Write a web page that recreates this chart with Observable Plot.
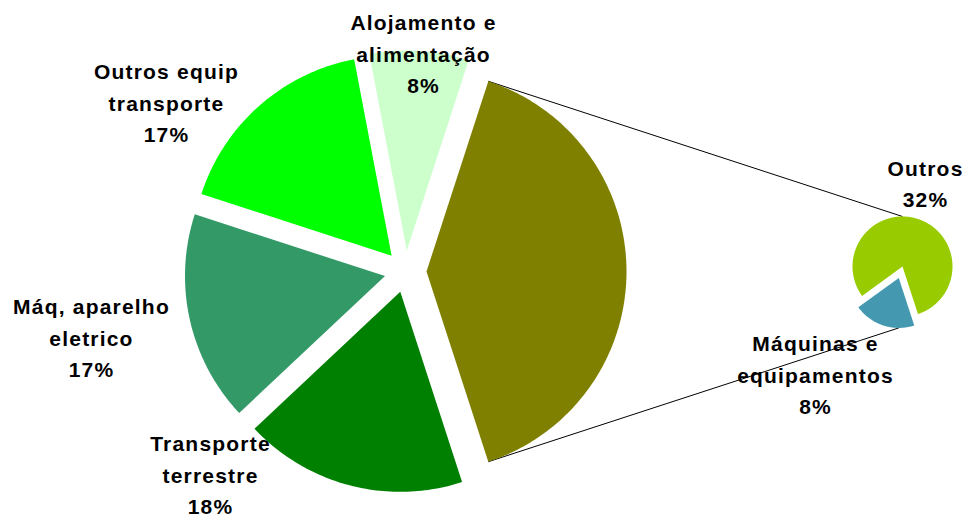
<!DOCTYPE html>
<html><head><meta charset="utf-8">
<script src="https://cdn.jsdelivr.net/npm/d3@7"></script>
<script src="https://cdn.jsdelivr.net/npm/@observablehq/plot@0.6"></script>
<style>
body{margin:0;background:#fff}
#chart svg text{letter-spacing:1.2px}
</style>
</head><body><div id="chart"></div>
<script>
// ---- data ----
// main pie categories, clockwise starting right after the "other" slice
const mainCategories = ["Transporte\nterrestre", "Máq, aparelho\neletrico", "Outros equip\ntransporte", "Alojamento e\nalimentação"];
const mainValues = [18, 17, 17, 8];
const mainColors = ["#008000", "#339966", "#00FF00", "#CCFFCC"];
const otherColor = "#808000";
// secondary pie (breakdown of the "other" slice)
const secondaryCategories = ["Máquinas e\nequipamentos", "Outros"];
const secondaryValues = [8, 32];
const secondaryColors = ["#4499B0", "#99CC00"];

// ---- layout ----
const W = 966, H = 517;
const mainPie = {cx: 405, cy: 271, r: 200, explode: 21};
const secPie = {cx: 902, cy: 266, r: 50, explode: [12, 0], start: 162};
const mainLabelPos = [[210, 472], [91, 335], [166, 100], [423, 51]];
const secLabelPos = [[815, 372], [925, 181]];

const rad = a => a * Math.PI / 180;
function slice(id, cx, cy, r, a0, a1, ex, fill) {
  const mid = rad((a0 + a1) / 2);
  const ox = cx + ex * Math.sin(mid), oy = cy - ex * Math.cos(mid);
  const pts = [{id, fill, x: ox, y: oy}];
  const n = Math.max(2, Math.ceil(Math.abs(a1 - a0)));
  for (let i = 0; i <= n; i++) {
    const a = rad(a0 + (a1 - a0) * i / n);
    pts.push({id, fill, x: ox + r * Math.sin(a), y: oy - r * Math.cos(a)});
  }
  pts.push({id, fill, x: ox, y: oy});
  return {pts, ox, oy, a0, a1};
}

const otherTotal = d3.sum(secondaryValues);
const total = d3.sum(mainValues) + otherTotal;
const otherAngle = otherTotal / total * 360;
const otherStart = 90 - otherAngle / 2, otherEnd = 90 + otherAngle / 2;

const polys = [];
const labels = [];
const olive = slice("other", mainPie.cx, mainPie.cy, mainPie.r, otherStart, otherEnd, mainPie.explode, otherColor);
polys.push(...olive.pts);
let a = otherEnd;
mainValues.forEach((v, i) => {
  const a1 = a + v / total * 360;
  const s = slice("m" + i, mainPie.cx, mainPie.cy, mainPie.r, a, a1, mainPie.explode, mainColors[i]);
  polys.push(...s.pts);
  labels.push({x: mainLabelPos[i][0], y: mainLabelPos[i][1], text: mainCategories[i] + "\n" + Math.round(v / total * 100) + "%"});
  a = a1;
});

const secTotal = otherTotal;
let b = secPie.start;
const secSlices = [];
secondaryValues.forEach((v, i) => {
  const a1 = b + v / secTotal * 360;
  const s = slice("s" + i, secPie.cx, secPie.cy, secPie.r, b, a1, secPie.explode[i], secondaryColors[i]);
  polys.push(...s.pts);
  secSlices.push(s);
  labels.push({x: secLabelPos[i][0], y: secLabelPos[i][1], text: secondaryCategories[i] + "\n" + Math.round(v / total * 100) + "%"});
  b = a1;
});

// connector lines: from the corners of the "other" slice to top / bottom of the secondary pie
const topCorner = {x: olive.ox + mainPie.r * Math.sin(rad(otherStart)), y: olive.oy - mainPie.r * Math.cos(rad(otherStart))};
const botCorner = {x: olive.ox + mainPie.r * Math.sin(rad(otherEnd)), y: olive.oy - mainPie.r * Math.cos(rad(otherEnd))};
const botSlice = secSlices[0];
const connectors = [
  {x1: topCorner.x, y1: topCorner.y, x2: secPie.cx, y2: secPie.cy - secPie.r},
  {x1: botCorner.x, y1: botCorner.y, x2: botSlice.ox, y2: botSlice.oy + secPie.r}
];

const chart = Plot.plot({
  width: W, height: H,
  margin: 0,
  x: {domain: [0, W], range: [0, W], axis: null},
  y: {domain: [0, H], range: [0, H], axis: null},
  color: {type: "identity"},
  marks: [
    Plot.link(connectors, {x1: "x1", y1: "y1", x2: "x2", y2: "y2", stroke: "black", strokeWidth: 1}),
    Plot.line(polys, {x: "x", y: "y", z: "id", fill: "fill", stroke: "none", curve: "linear"}),
    Plot.text(labels, {x: "x", y: "y", text: "text", fontSize: 21, fontWeight: "bold",
      fontFamily: "'Liberation Sans', Arial, sans-serif", lineHeight: 1.5, fill: "black", lineAnchor: "middle"})
  ]
});
document.getElementById("chart").appendChild(chart);
</script>
</body></html>
